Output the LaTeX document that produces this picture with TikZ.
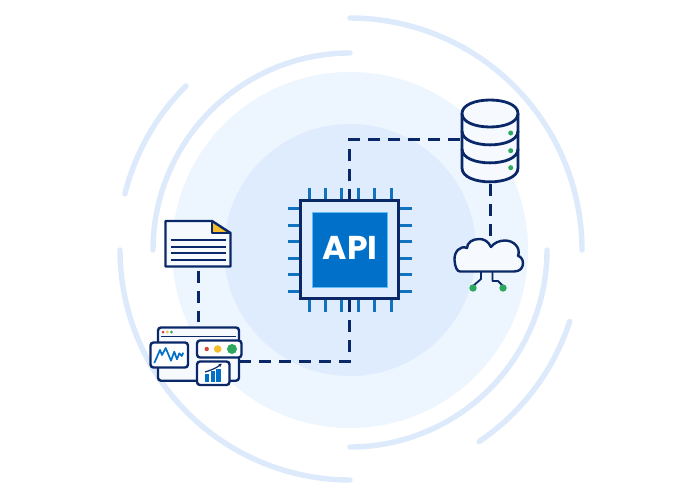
\documentclass[tikz,border=0pt]{standalone}
\usepackage{fontspec}
\usetikzlibrary{arrows.meta}
\setmainfont{Poppins}
\definecolor{navy}{HTML}{0A2868}
\definecolor{ringc}{HTML}{DCEAFB}
\definecolor{disca}{HTML}{EDF5FE}
\definecolor{discb}{HTML}{DEECFD}
\definecolor{softfill}{HTML}{F6FAFF}
\definecolor{pinc}{HTML}{1173BD}
\definecolor{core}{HTML}{0070C9}
\definecolor{coreb}{HTML}{63BDF6}
\definecolor{greenc}{HTML}{2EA85F}
\definecolor{yellowc}{HTML}{F6BE2C}
\definecolor{redc}{HTML}{D2473F}
\tikzset{
  ring/.style={draw=ringc,line width=5.4pt,line cap=round},
  link/.style={draw=navy,line width=3pt,dash pattern=on 12pt off 8pt},
  outline/.style={draw=navy,line width=2.8pt,line join=round},
  cloud outline/.style={draw=navy,line width=2.4pt,line join=round},
  thin outline/.style={draw=navy,line width=2.4pt,line join=round},
  card/.style={thin outline,fill=white,rounded corners=3pt},
  pin/.style={draw=pinc,line width=3pt},
}
\begin{document}
\begin{tikzpicture}[x=1pt,y=-1pt]
\useasboundingbox (0,0) rectangle (700,500);
\fill[white] (0,0) rectangle (700,500);
% rings and discs
\fill[disca] (350,250) circle [radius=178];
\fill[discb] (350,250) circle [radius=126];
\foreach \r/\a/\b in {232/-90/0, 197/180/270, 230/90/180, 197/0/90, 232/194/225, 231/18/56}
  \draw[ring] plot[domain=\a:\b,samples=70,variable=\t] ({350+\r*cos(\t)},{250+\r*sin(\t)});
% anchor nodes
\node[inner sep=0pt,minimum width=99pt,minimum height=100pt] (chip) at (349.5,250) {};
\node[inner sep=0pt,minimum width=56pt,minimum height=89pt] (db) at (490,139.5) {};
\node[inner sep=0pt,minimum width=69pt,minimum height=36pt] (cloud) at (488.5,254) {};
\node[inner sep=0pt,minimum width=66pt,minimum height=50pt] (doc) at (198,245.7) {};
\node[inner sep=0pt,minimum width=82pt,minimum height=10pt] (panel) at (198,327) {};
\coordinate (panelport) at (239,361.3);
% connectors
\draw[link,dash phase=1.5pt] (chip.north) |- (db.west);
\draw[link] (chip.south) |- (panelport);
\draw[link] (db.south) -- (db.south |- cloud.north);
\draw[link] (doc.south) -- (panel.north);
% chip
\foreach \p in {309,325,341.5,358,374,391} {
  \draw[pin] (\p,188) -- (\p,200);
  \draw[pin] (\p,300) -- (\p,312);
}
\foreach \p in {208.7,225,241.5,258,274,291} {
  \draw[pin] (288,\p) -- (300,\p);
  \draw[pin] (400,\p) -- (412,\p);
}
\draw[draw=navy,line width=3pt,fill=discb] (300.5,200.5) rectangle (398.5,298.5);
\draw[draw=coreb,line width=.8pt,fill=core] (312.5,212.5) rectangle (387,287);
\node[text=white,font=\bfseries\fontsize{33}{33}\selectfont,inner sep=0pt] (apilabel) at (350,247.5) {API};
% database
\path[fill=softfill] (462,113.5) .. controls (462,95.5) and (518,95.5) .. (518,113.5) -- (518,168) .. controls (518,186.5) and (462,186.5) .. (462,168) -- cycle;
\draw[outline] (462,113.5) .. controls (462,95.5) and (518,95.5) .. (518,113.5) .. controls (518,131.5) and (462,131.5) .. (462,113.5) -- cycle;
\draw[outline] (462,113.5) -- (462,168) .. controls (462,186.5) and (518,186.5) .. (518,168) -- (518,113.5);
\draw[outline] (462,131) .. controls (462,149.5) and (518,149.5) .. (518,131);
\draw[outline] (462,149) .. controls (462,167.5) and (518,167.5) .. (518,149);
\foreach \y in {133,150.7,167.7} \fill[greenc] (510.7,\y) circle [radius=2.5];
% cloud
\draw[cloud outline,fill=softfill] (460,271.5) -- (514,271.5)
  .. controls (520,271.5) and (523,268) .. (523,263)
  .. controls (523,259) and (520,256) .. (518,256)
  .. controls (521,248) and (514,240.5) .. (505,240.5)
  .. controls (499,240.5) and (494,243) .. (491,247)
  .. controls (488,241) and (484,239) .. (479,239)
  .. controls (472,239) and (467,243) .. (467,248)
  .. controls (460,245) and (454,252) .. (454.5,260)
  .. controls (455,267) and (457,271.5) .. (460,271.5) -- cycle;
\draw[draw=navy,line width=1.8pt,line join=round] (481,272) -- (481,279) -- (473,286);
\draw[draw=navy,line width=1.8pt,line join=round] (492.5,272) -- (492.5,281) -- (498,281) -- (503,286);
\fill[greenc] (473,288) circle [radius=3.7];
\fill[greenc] (503,288) circle [radius=3.7];
% document
\path[fill=softfill] (165.5,221) -- (212,221) -- (230.5,233) -- (230.5,266.5) -- (165.5,266.5) -- cycle;
\fill[yellowc] (212,221) -- (230.5,233) -- (212,233) -- cycle;
\draw[thin outline] (212,221) -- (212,233) -- (230.5,233);
\draw[thin outline] (165.5,221) -- (212,221) -- (230.5,233) -- (230.5,266.5) -- (165.5,266.5) -- cycle;
\foreach \y in {240,246.7,253.3,260} \draw[draw=navy,line width=2pt] (170.7,\y) -- (226,\y);
% dashboard
\draw[card,fill=softfill] (158,327.5) rectangle (239,380.7);
\draw[draw=navy,line width=1.7pt] (161,336.5) -- (236,336.5);
\fill[redc] (163,332) circle [radius=1.5];
\fill[yellowc] (167.3,332) circle [radius=1.5];
\fill[greenc] (171.5,332) circle [radius=1.5];
\draw[card] (150.5,342.5) rectangle (188,367.5);
\draw[draw=core,line width=1.7pt,line join=round] (154.3,363) -- (160,350) -- (162,355) -- (165.7,348) -- (171,360.7) -- (174.3,351.7) -- (177,359.3) -- (179.3,353.3) -- (181.7,356) -- (183.3,352.7);
\draw[card] (197,340.5) rectangle (241.5,357.5);
\fill[redc] (206.7,349) circle [radius=2.2];
\fill[yellowc] (217.7,349) circle [radius=3.8];
\fill[greenc] (232,349) circle [radius=5];
\draw[card] (197,361.5) rectangle (229.5,385);
\fill[core] (205,373.5) rectangle (209.3,382);
\fill[core] (210.5,371) rectangle (215,382);
\fill[core] (216.3,368.5) rectangle (221,382);
\draw[draw=navy,line width=1.2pt,-{Latex[length=3.5pt,width=3.5pt]}] (205,372) .. controls (212,370) and (217,367.5) .. (222,363.5);
\end{tikzpicture}
\end{document}
